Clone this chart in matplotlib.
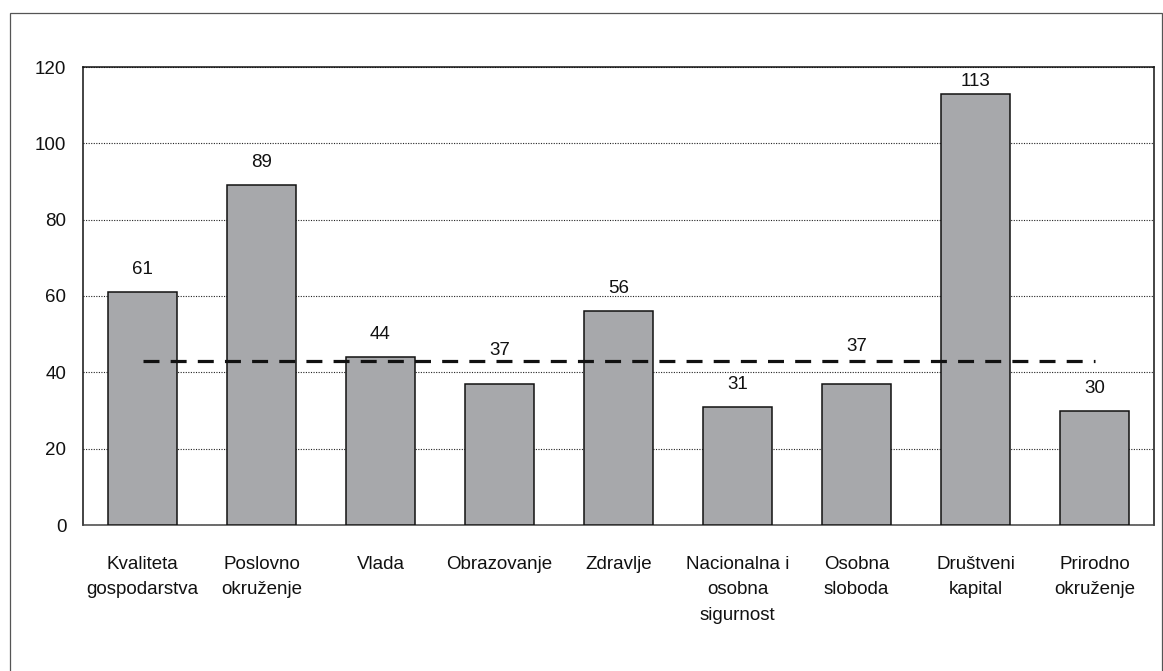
import matplotlib.pyplot as plt
from matplotlib.patches import Rectangle

categories = ['Kvaliteta\ngospodarstva', 'Poslovno\nokruženje', 'Vlada', 'Obrazovanje',
              'Zdravlje', 'Nacionalna i\nosobna\nsigurnost', 'Osobna\nsloboda',
              'Društveni\nkapital', 'Prirodno\nokruženje']
values = [61, 89, 44, 37, 56, 31, 37, 113, 30]
average = 43
yticks = [0, 20, 40, 60, 80, 100, 120]

# hand nudges (points) for labels that were moved off the dashed line / top
label_nudge = {3: 8, 6: 11, 7: -7}

plt.rcParams['font.family'] = ['Liberation Sans', 'DejaVu Sans']

fig = plt.figure(figsize=(11.63, 6.71), dpi=100)
ax = fig.add_axes([83/1163, 1 - 525/671, (1154 - 83)/1163, (525 - 67)/671])

x = list(range(len(values)))
ax.bar(x, values, width=0.58, color='#a7a8ab', edgecolor='#111111', linewidth=1.1, zorder=3)

for i, v in enumerate(values):
    ax.annotate(str(v), (i, v), xytext=(0, 10 + label_nudge.get(i, 0)),
                textcoords='offset points', ha='center', va='bottom',
                fontsize=13.5, color='#111111', zorder=5)

ax.plot([x[0], x[-1]], [average, average], color='#111111', linewidth=2.3,
        dashes=(5, 3.5), dash_capstyle='butt', zorder=4)

ax.set_xlim(-0.5, len(values) - 0.5)
ax.set_ylim(0, 120)
ax.set_yticks(yticks)
ax.set_xticks(x)
ax.set_xticklabels(categories, linespacing=1.68)
ax.tick_params(axis='x', length=0, pad=22, labelsize=13.5, colors='#111111')
ax.tick_params(axis='y', length=0, pad=12, labelsize=13.5, colors='#111111')
ax.yaxis.grid(True, color='#222222', linestyle=(0, (1, 1.3)), linewidth=0.8, zorder=1)
ax.set_axisbelow(True)

for side in ['top', 'left', 'right']:
    ax.spines[side].set_color('#111111')
    ax.spines[side].set_linewidth(1.1)
ax.spines['bottom'].set_color('#444444')
ax.spines['bottom'].set_linewidth(1.1)

# outer frame around the whole chart
fig.patches.append(Rectangle((10/1163, -0.02), (1162 - 10)/1163, 1.02 - 13/671,
                             transform=fig.transFigure, fill=False,
                             edgecolor='#555555', linewidth=0.9))

fig.savefig('out.png', dpi=100)
